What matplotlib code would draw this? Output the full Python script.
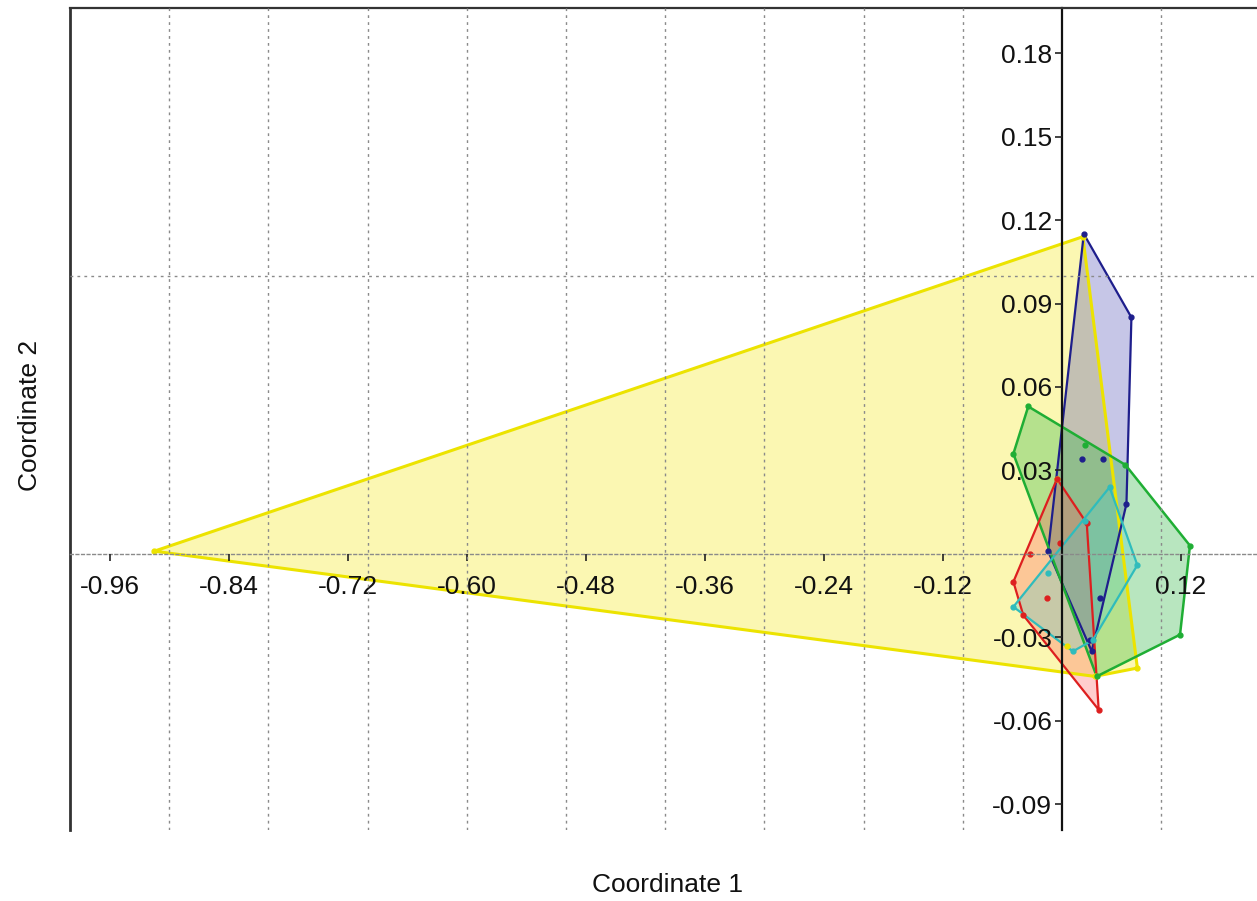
import matplotlib
matplotlib.use("Agg")
import matplotlib.pyplot as plt
from matplotlib.ticker import FixedLocator, FixedFormatter

plt.rcParams['font.family'] = ['Liberation Sans', 'DejaVu Sans']

# Principal coordinates of samples, one pair of lists per group
yellow_x = [-0.915, 0.021, 0.076, 0.033, -0.005, 0.005]
yellow_y = [0.001, 0.114, -0.041, -0.044, 0.027, -0.033]

blue_x = [0.022, 0.070, 0.065, 0.030, 0.028, -0.014, 0.020, 0.041, 0.038]
blue_y = [0.115, 0.085, 0.018, -0.035, -0.031, 0.001, 0.034, 0.034, -0.016]

green_x = [-0.034, 0.064, 0.129, 0.119, 0.035, -0.049, 0.023]
green_y = [0.053, 0.032, 0.003, -0.029, -0.044, 0.036, 0.039]

red_x = [-0.005, 0.025, 0.037, -0.039, -0.049, -0.032, -0.002, -0.015]
red_y = [0.027, 0.011, -0.056, -0.022, -0.010, 0.000, 0.004, -0.016]

cyan_x = [0.076, 0.031, 0.011, -0.049, -0.014, 0.048, 0.023]
cyan_y = [-0.004, -0.031, -0.035, -0.019, -0.007, 0.024, 0.012]

x_ticks = [-0.96, -0.84, -0.72, -0.60, -0.48, -0.36, -0.24, -0.12, 0.12]
x_labels = ["-0.96", "-0.84", "-0.72", "-0.60", "-0.48", "-0.36", "-0.24", "-0.12", "0.12"]
y_ticks = [-0.09, -0.06, -0.03, 0.03, 0.06, 0.09, 0.12, 0.15, 0.18]
y_labels = ["-0.09", "-0.06", "-0.03", "0.03", "0.06", "0.09", "0.12", "0.15", "0.18"]

# Grid positions (the lines at 0 are the axes themselves)
x_grid = [-0.9, -0.8, -0.7, -0.6, -0.5, -0.4, -0.3, -0.2, -0.1, 0.1]
y_grid = [0.1]

groups = [
    (yellow_x, yellow_y, "#ece300", "#f2e600", 0.30, 2.2),
    (blue_x, blue_y, "#1e1e8c", "#5252b8", 0.33, 1.6),
    (green_x, green_y, "#1fae34", "#34b848", 0.35, 1.8),
    (red_x, red_y, "#dd1f1f", "#ff5a5a", 0.30, 1.6),
    (cyan_x, cyan_y, "#2fbcbc", "#4fd0d0", 0.30, 1.6),
]


def convex_hull(xs, ys):
    pts = sorted(set(zip(xs, ys)))
    if len(pts) < 3:
        return pts

    def cross(o, a, b):
        return (a[0] - o[0]) * (b[1] - o[1]) - (a[1] - o[1]) * (b[0] - o[0])

    lower, upper = [], []
    for p in pts:
        while len(lower) >= 2 and cross(lower[-2], lower[-1], p) <= 0:
            lower.pop()
        lower.append(p)
    for p in reversed(pts):
        while len(upper) >= 2 and cross(upper[-2], upper[-1], p) <= 0:
            upper.pop()
        upper.append(p)
    return lower[:-1] + upper[:-1]


W, H = 1257, 901
fig = plt.figure(figsize=(W / 100, H / 100), dpi=100)
left_px, right_px, top_px, bottom_px = 70, 1257, 8, 830
ax = fig.add_axes([left_px / W, 1 - bottom_px / H,
                   (right_px - left_px) / W, (bottom_px - top_px) / H])
ax.set_xlim(-1.0, 0.1966)
ax.set_ylim(-0.0992, 0.1962)

ax.xaxis.remove_overlapping_locs = False
ax.xaxis.set_minor_locator(FixedLocator(x_grid))
ax.yaxis.set_minor_locator(FixedLocator(y_grid))
ax.grid(which='minor', color='#8a8a8a', linestyle=(0, (2, 3)), linewidth=1.0)
ax.grid(which='major', visible=False)
ax.set_axisbelow(False)

# Axes cross at the origin
ax.spines['left'].set_position(('data', 0))
ax.spines['bottom'].set_position(('data', 0))
ax.spines['bottom'].set_linestyle((0, (2, 2)))
ax.spines['bottom'].set_color('#8a8a8a')
ax.spines['bottom'].set_linewidth(1.0)
ax.spines['left'].set_color('#111111')
ax.spines['left'].set_linewidth(1.6)
ax.spines['right'].set_visible(False)
ax.spines['top'].set_color('#333333')
ax.spines['top'].set_linewidth(1.6)
ax.axvline(-1.0, color='#333333', linewidth=2.0, clip_on=False)

ax.xaxis.set_major_locator(FixedLocator(x_ticks))
ax.xaxis.set_major_formatter(FixedFormatter(x_labels))
ax.yaxis.set_major_locator(FixedLocator(y_ticks))
ax.yaxis.set_major_formatter(FixedFormatter(y_labels))
ax.tick_params(which='major', direction='out', length=5, width=1.2, color='#222222',
               labelsize=19, labelcolor='#111111')
ax.tick_params(axis='x', which='major', pad=10)
ax.tick_params(axis='y', which='major', pad=2)
ax.tick_params(which='minor', length=0)

for xs, ys, edge, face, alpha, lw in groups:
    hull = convex_hull(xs, ys)
    hx = [p[0] for p in hull]
    hy = [p[1] for p in hull]
    ax.fill(hx, hy, facecolor=face, alpha=alpha, edgecolor='none', zorder=1)
    ax.fill(hx, hy, facecolor='none', edgecolor=edge, linewidth=lw, zorder=1.5)
    ax.plot(xs, ys, linestyle='none', marker='o', markersize=3.5,
            color=edge, zorder=2)

fig.text(667 / W, 1 - 885 / H, "Coordinate 1", ha='center', va='center',
         fontsize=19, color='#111111')
fig.text(30 / W, 1 - 415 / H, "Coordinate 2", ha='center', va='center',
         rotation=90, fontsize=19, color='#111111')

fig.savefig("out.png", dpi=100, facecolor='white')
